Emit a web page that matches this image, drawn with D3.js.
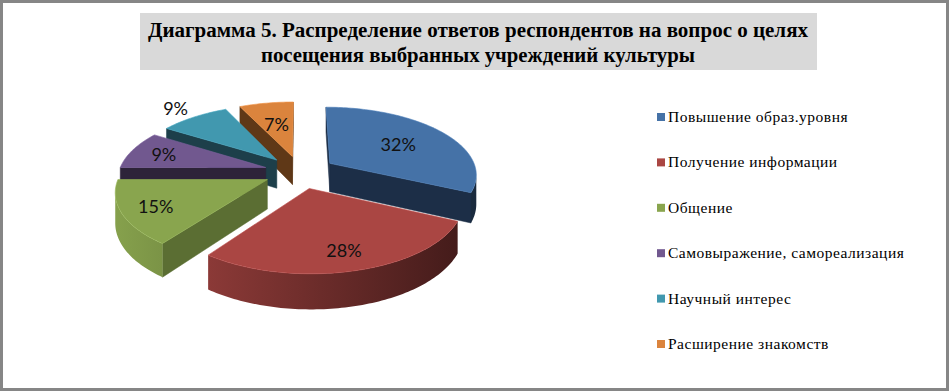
<!DOCTYPE html>
<html>
<head>
<meta charset="utf-8">
<style>
    body { margin: 0; background: #fff; }
    svg { display: block; }
</style>
</head>
<body>
<svg id="chart" width="949" height="391"></svg>

<script src="https://cdnjs.cloudflare.com/ajax/libs/d3/7.8.5/d3.min.js"></script>
<script>
    // data
    const titleLines = [
        'Диаграмма 5. Распределение ответов респондентов на вопрос о целях',
        'посещения выбранных учреждений культуры'
    ];
    const categories = [
        'Повышение образ.уровня',
        'Получение информации',
        'Общение',
        'Самовыражение, самореализация',
        'Научный интерес',
        'Расширение знакомств'
    ];
    const values = [32, 28, 15, 9, 9, 7];

    // styles
    const colors = ['#4572A7', '#AA4643', '#89A54E', '#71588F', '#4198AF', '#DB843D'];
    const cutColors = ['#1C2E47', '#3E1918', '#5B6E33', '#2D2339', '#1D3F4A', '#5F3817'];
    const labelRadius = [0.6, 0.78, 0.78, 0.76, 1.25, 0.58];

    // 3d projection of the pie (u right, v back, h up)
    const cx = 300, cy = 172, R = 147, Ry = 67, k = 0.15, H = 29, explode = 0.245;
    function proj(u, v, h) {
        const s = 1 / (1 + k * v);
        return [cx + R * u * s, cy - Ry * v * s - H * h * s];
    }
    function area(pts) {
        let a = 0;
        for (let i = 0; i < pts.length; i++) {
            const p = pts[i], q = pts[(i + 1) % pts.length];
            a += p[0] * q[1] - q[0] * p[1];
        }
        return a;
    }
    const line = d3.line();

    const svg = d3.select('#chart');

    // frame
    svg.append('rect')
        .attr('x', 1.5).attr('y', 1.5)
        .attr('width', 946).attr('height', 388)
        .attr('fill', 'none')
        .attr('stroke', '#868686')
        .attr('stroke-width', 3);

    // title
    svg.append('rect')
        .attr('x', 140).attr('y', 13)
        .attr('width', 677).attr('height', 57)
        .attr('fill', '#D9D9D9');
    svg.selectAll('.title').data(titleLines).enter().append('text')
        .attr('class', 'title')
        .attr('x', 478)
        .attr('y', (d, i) => 37 + i * 25)
        .attr('text-anchor', 'middle')
        .attr('textLength', (d, i) => i === 0 ? 660 : 434)
        .attr('lengthAdjust', 'spacingAndGlyphs')
        .style('font-family', '"Liberation Serif", "Times New Roman", serif')
        .style('font-weight', 'bold')
        .style('font-size', '20px')
        .text(d => d);

    // slices
    const arcs = d3.pie().sort(null).value(d => d)(values);
    const defs = svg.append('defs');

    arcs.forEach((a, i) => {
        const bis = (a.startAngle + a.endAngle) / 2;
        a.ou = explode * Math.sin(bis);
        a.ov = explode * Math.cos(bis);
        a.bis = bis;
        a.i = i;
        const g = defs.append('linearGradient')
            .attr('id', `side${i}`)
            .attr('gradientUnits', 'userSpaceOnUse')
            .attr('x1', 110).attr('x2', 480)
            .attr('y1', 0).attr('y2', 0);
        g.append('stop').attr('offset', 0).attr('stop-color', d3.color(colors[i]).darker(0.05));
        g.append('stop').attr('offset', 1).attr('stop-color', d3.color(colors[i]).darker(2.85));
    });

    function pt(a, ang, r, h) {
        return proj(a.ou + r * Math.sin(ang), a.ov + r * Math.cos(ang), h);
    }

    const pieG = svg.append('g');
    const order = arcs.slice().sort((x, y) => y.ov - x.ov);

    order.forEach(a => {
        const i = a.i;
        const g = pieG.append('g');
        const a0 = a.startAngle, a1 = a.endAngle;
        const n = Math.max(2, Math.ceil((a1 - a0) / 0.02));
        const angs = d3.range(n + 1).map(j => a0 + (a1 - a0) * j / n);

        // radial cut faces
        const start = [pt(a, 0, 0, 0), pt(a, 0, 0, -1), pt(a, a0, 1, -1), pt(a, a0, 1, 0)];
        const end = [pt(a, 0, 0, 0), pt(a, a1, 1, 0), pt(a, a1, 1, -1), pt(a, 0, 0, -1)];
        [start, end].forEach(f => {
            if (area(f) > 0) {
                g.append('path')
                    .attr('d', line(f) + 'Z')
                    .attr('fill', cutColors[i])
                    .attr('stroke', cutColors[i])
                    .attr('stroke-width', 0.5);
            }
        });

        // outer curved side, visible part only
        const vis = [];
        for (let j = 0; j < n; j++) {
            const q = [pt(a, angs[j], 1, 0), pt(a, angs[j], 1, -1), pt(a, angs[j + 1], 1, -1), pt(a, angs[j + 1], 1, 0)];
            if (area(q) > 0) vis.push(j);
        }
        if (vis.length) {
            const js = vis[0], je = vis[vis.length - 1] + 1;
            const sub = angs.slice(js, je + 1);
            const pts = sub.map(t => pt(a, t, 1, 0)).concat(sub.slice().reverse().map(t => pt(a, t, 1, -1)));
            g.append('path')
                .attr('d', line(pts) + 'Z')
                .attr('fill', `url(#side${i})`);
        }

        // top face
        const top = [pt(a, 0, 0, 0)].concat(angs.map(t => pt(a, t, 1, 0)));
        g.append('path')
            .attr('d', line(top) + 'Z')
            .attr('fill', colors[i])
            .attr('stroke', d3.color(colors[i]).brighter(0.3))
            .attr('stroke-width', 0.6);
    });

    // percent labels
    svg.selectAll('.lbl').data(arcs).enter().append('text')
        .attr('class', 'lbl')
        .attr('x', d => pt(d, d.bis, labelRadius[d.i], 0)[0])
        .attr('y', d => pt(d, d.bis, labelRadius[d.i], 0)[1])
        .attr('text-anchor', 'middle')
        .attr('dominant-baseline', 'central')
        .style('font-family', 'Lato, "Open Sans", sans-serif')
        .style('font-size', '18px')
        .style('fill', '#111')
        .text(d => d.data + '%');

    // legend
    const leg = svg.selectAll('.leg').data(categories).enter().append('g')
        .attr('class', 'leg')
        .attr('transform', (d, i) => `translate(657,${117 + i * 45.4})`);
    leg.append('rect')
        .attr('x', 0).attr('y', -4)
        .attr('width', 8).attr('height', 8)
        .attr('fill', (d, i) => colors[i]);
    leg.append('text')
        .attr('x', 11)
        .attr('y', 5)
        .style('font-family', '"Liberation Serif", "Times New Roman", serif')
        .style('font-size', '15.5px')
        .style('letter-spacing', '0.5px')
        .text(d => d);
</script>
</body>
</html>
